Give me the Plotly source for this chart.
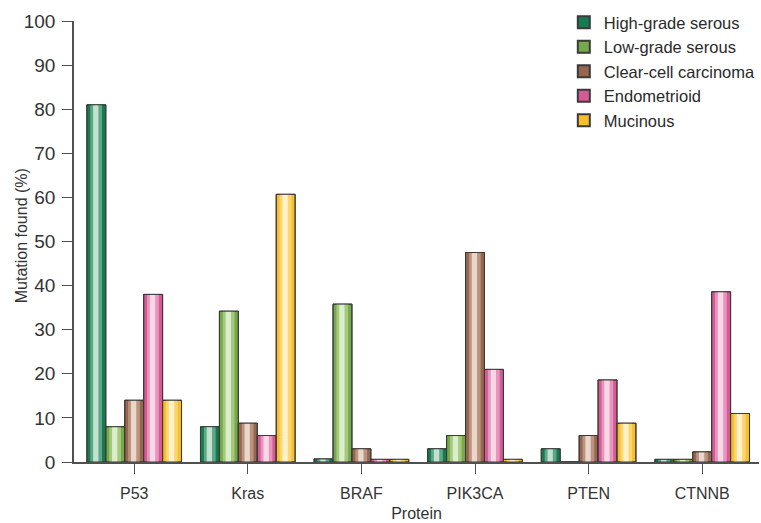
import plotly.graph_objects as go

categories = ["P53", "Kras", "BRAF", "PIK3CA", "PTEN", "CTNNB"]
series_names = ["High-grade serous", "Low-grade serous", "Clear-cell carcinoma", "Endometrioid", "Mucinous"]
high_grade_serous = [81, 8, 0.7, 3, 3, 0.6]
low_grade_serous = [8, 34.2, 35.8, 6, 0, 0.6]
clear_cell = [14, 8.8, 3, 47.5, 6, 2.3]
endometrioid = [38, 6, 0.6, 21, 18.6, 38.6]
mucinous = [14, 60.7, 0.6, 0.6, 8.8, 11]
y_ticks = [0, 10, 20, 30, 40, 50, 60, 70, 80, 90, 100]

values = [high_grade_serous, low_grade_serous, clear_cell, endometrioid, mucinous]
edge_colors = ["#167a52", "#76aa48", "#97664f", "#d65a95", "#f7bf2c"]
mid_colors = ["#5fa886", "#a3c97e", "#bb9480", "#e795bb", "#fcd56e"]
light_colors = ["#c4e0d1", "#dcedcb", "#ead7cb", "#f8d7e7", "#fff2c8"]

FONT = "Liberation Sans, Arial, sans-serif"
w = 1 / 6
fig = go.Figure()
for i, (name, vals) in enumerate(zip(series_names, values)):
    off = -2.5 * w + i * w
    fig.add_trace(go.Bar(x=categories, y=vals, name=name, offset=off, width=w,
                         marker=dict(color=edge_colors[i], line=dict(color="#3a3a3a", width=1)),
                         showlegend=True, legendgroup=name))
    fig.add_trace(go.Bar(x=categories, y=vals, offset=off + 0.18 * w, width=0.62 * w,
                         marker=dict(color=mid_colors[i], line=dict(width=0)),
                         showlegend=False, legendgroup=name, hoverinfo="skip"))
    fig.add_trace(go.Bar(x=categories, y=vals, offset=off + 0.33 * w, width=0.28 * w,
                         marker=dict(color=light_colors[i], line=dict(width=0)),
                         showlegend=False, legendgroup=name, hoverinfo="skip"))
    fig.add_trace(go.Bar(x=categories, y=vals, offset=off, width=w,
                         marker=dict(color="rgba(0,0,0,0)", line=dict(color="#3a3a3a", width=1)),
                         showlegend=False, legendgroup=name, hoverinfo="skip"))

fig.update_layout(
    barmode="overlay",
    width=761, height=523,
    margin=dict(l=74, r=1, t=21, b=61),
    paper_bgcolor="white", plot_bgcolor="white",
    font=dict(family=FONT, size=16, color="#333333"),
    legend=dict(x=0.714, y=1.036, xanchor="left", yanchor="top",
                font=dict(size=16.5, color="#2a2a2a"), tracegroupgap=0,
                itemsizing="constant", bgcolor="rgba(0,0,0,0)"),
    xaxis=dict(type="category", range=[-0.53, 5.5], showline=True, linecolor="#505050",
               linewidth=1.5, ticks="outside", ticklen=10, tickcolor="#505050",
               ticklabelstandoff=6,
               tickfont=dict(size=16), title=dict(text="Protein", font=dict(size=16), standoff=7),
               showgrid=False, zeroline=False),
    yaxis=dict(range=[0, 100], tickvals=y_ticks, showline=True, linecolor="#505050",
               linewidth=1.5, ticks="outside", ticklen=10, tickcolor="#505050",
               ticklabelstandoff=3,
               tickfont=dict(size=19),
               showgrid=False, zeroline=False),
    annotations=[dict(text="Mutation found (%)", xref="paper", yref="paper",
                      x=(21 - 74) / 686, y=0.512, xanchor="center", yanchor="middle",
                      textangle=-90, showarrow=False, font=dict(size=16, color="#333333"))],
)
fig.write_html("out.html", config={"displayModeBar": False},
               post_script="document.body.style.margin='0px';")
